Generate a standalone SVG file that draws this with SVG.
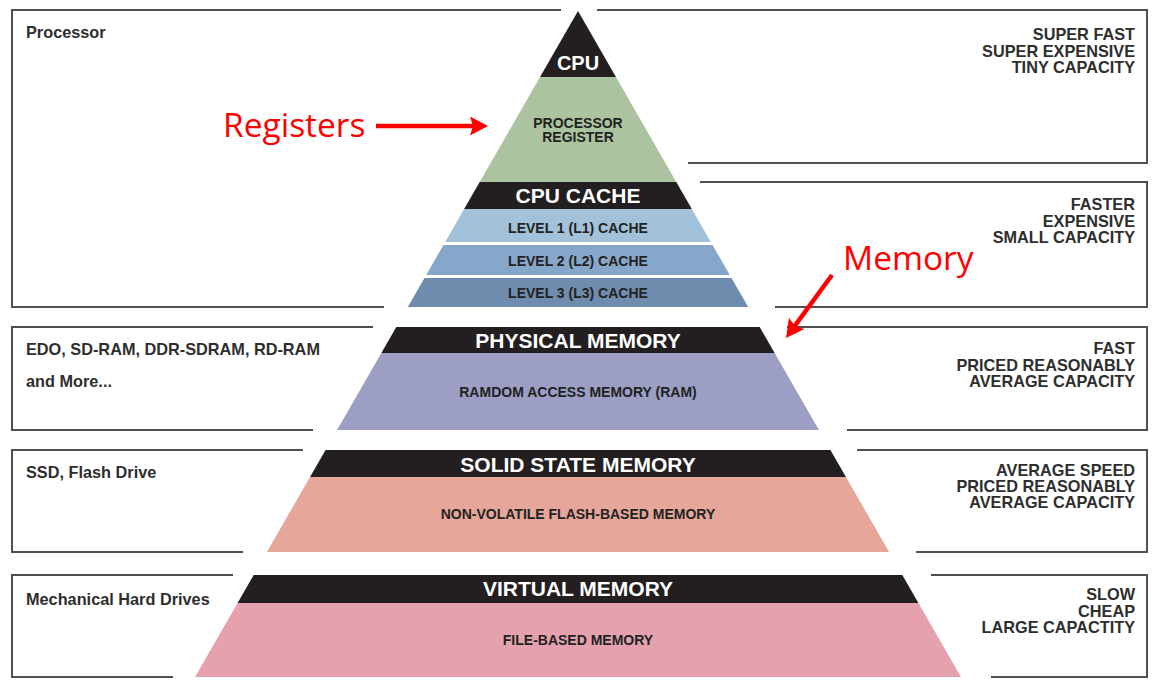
<svg xmlns="http://www.w3.org/2000/svg" width="1157" height="688" viewBox="0 0 1157 688">
<defs>
<style>
.box{fill:none;stroke:#505050;stroke-width:2}
.hd{fill:#231f20}
.tw{font-family:"Liberation Sans",Arial,sans-serif;font-weight:bold;font-size:21px;fill:#fff;text-anchor:middle}
.tb{font-family:"Liberation Sans",Arial,sans-serif;font-weight:bold;font-size:14px;fill:#222;text-anchor:middle}
.tl{font-family:"Liberation Sans",Arial,sans-serif;font-weight:bold;font-size:16.3px;fill:#2e2e2e}
.tr{font-family:"Liberation Sans",Arial,sans-serif;font-weight:bold;font-size:16.3px;fill:#2e2e2e;text-anchor:end}
.red{font-family:"Open Sans","Noto Sans",sans-serif;font-size:33.5px;fill:#f00}
.arr{stroke:#f00;stroke-width:4.5;fill:none;marker-end:url(#ah)}
</style>
<marker id="ah" markerUnits="userSpaceOnUse" markerWidth="20" markerHeight="20" refX="8" refY="9.5" orient="auto">
<path d="M0,0 L18,9.5 L0,19 L3,9.5 Z" fill="#f00"/>
</marker>
</defs>
<rect width="1157" height="688" fill="#fff"/>

<g id="tier-processor">
<path class="box" d="M561,10 H12 V307 H384"/>
<path class="box" d="M597,10 H1147 V163 H688"/>
<text class="tl" x="26" y="38">Processor</text>
<text class="tr" x="1135" y="40">SUPER FAST</text>
<text class="tr" x="1135" y="57">SUPER EXPENSIVE</text>
<text class="tr" x="1135" y="73">TINY CAPACITY</text>
<polygon class="hd" points="578,11 615.95,77 540.05,77"/>
<text class="tw" x="578" y="70" style="font-size:20px">CPU</text>
<polygon points="540.05,77 615.95,77 676.3,182 479.7,182" fill="#abc49f"/>
<text class="tb" x="578" y="128" fill="#1e2a1a">PROCESSOR</text>
<text class="tb" x="578" y="142" fill="#1e2a1a">REGISTER</text>
</g>

<g id="tier-cache">
<path class="box" d="M700,182 H1147 V307 H775"/>
<text class="tr" x="1135" y="210">FASTER</text>
<text class="tr" x="1135" y="227">EXPENSIVE</text>
<text class="tr" x="1135" y="243">SMALL CAPACITY</text>
<polygon class="hd" points="479.7,182 676.3,182 691.85,209 464.15,209"/>
<text class="tw" x="578" y="203">CPU CACHE</text>
<polygon points="464.15,209 691.85,209 710.8,242 445.2,242" fill="#a3c2da"/>
<text class="tb" x="578" y="233">LEVEL 1 (L1) CACHE</text>
<polygon points="443.45,245 712.55,245 729.8,275 426.2,275" fill="#86a7c9"/>
<text class="tb" x="578" y="265.5">LEVEL 2 (L2) CACHE</text>
<polygon points="424.5,278 731.5,278 748.2,307 407.8,307" fill="#6f8cae"/>
<text class="tb" x="578" y="297.5">LEVEL 3 (L3) CACHE</text>
</g>

<g id="tier-physical">
<path class="box" d="M373,327 H12 V430 H313"/>
<path class="box" d="M787,327 H1147 V430 H847"/>
<text class="tl" x="26" y="355">EDO, SD-RAM, DDR-SDRAM, RD-RAM</text>
<text class="tl" x="26" y="387">and More...</text>
<text class="tr" x="1135" y="354">FAST</text>
<text class="tr" x="1135" y="371">PRICED REASONABLY</text>
<text class="tr" x="1135" y="387">AVERAGE CAPACITY</text>
<polygon class="hd" points="396.3,327 759.7,327 774.65,353 381.35,353"/>
<text class="tw" x="578" y="348">PHYSICAL MEMORY</text>
<polygon points="381.35,353 774.65,353 818.9,430 337.1,430" fill="#9c9ec4"/>
<text class="tb" x="578" y="397">RAMDOM ACCESS MEMORY (RAM)</text>
</g>

<g id="tier-ssd">
<path class="box" d="M303,450 H12 V552 H243"/>
<path class="box" d="M857,450 H1147 V552 H916"/>
<text class="tl" x="26" y="478">SSD, Flash Drive</text>
<text class="tr" x="1135" y="476">AVERAGE SPEED</text>
<text class="tr" x="1135" y="492">PRICED REASONABLY</text>
<text class="tr" x="1135" y="508">AVERAGE CAPACITY</text>
<polygon class="hd" points="325.6,450 830.4,450 845.95,477 310.05,477"/>
<text class="tw" x="578" y="472">SOLID STATE MEMORY</text>
<polygon points="310.05,477 845.95,477 889.1,552 266.9,552" fill="#e6a699"/>
<text class="tb" x="578" y="519">NON-VOLATILE FLASH-BASED MEMORY</text>
</g>

<g id="tier-virtual">
<path class="box" d="M233,575 H12 V677 H173"/>
<path class="box" d="M931,575 H1147 V677 H991"/>
<text class="tl" x="26" y="605">Mechanical Hard Drives</text>
<text class="tr" x="1135" y="600">SLOW</text>
<text class="tr" x="1135" y="617">CHEAP</text>
<text class="tr" x="1135" y="633">LARGE CAPACTITY</text>
<polygon class="hd" points="253.7,575 902.3,575 918.4,603 237.6,603"/>
<text class="tw" x="578" y="596">VIRTUAL MEMORY</text>
<polygon points="237.6,603 918.4,603 961,677 195,677" fill="#e6a1af"/>
<text class="tb" x="578" y="645">FILE-BASED MEMORY</text>
</g>

<g id="annotations">
<text class="red" x="223" y="137">Registers</text>
<text class="red" x="843" y="270">Memory</text>
</g>

<g id="connectors">
<path class="arr" d="M376,126 H478"/>
<path class="arr" d="M832,275 L791.9,329.9"/>
</g>
</svg>
